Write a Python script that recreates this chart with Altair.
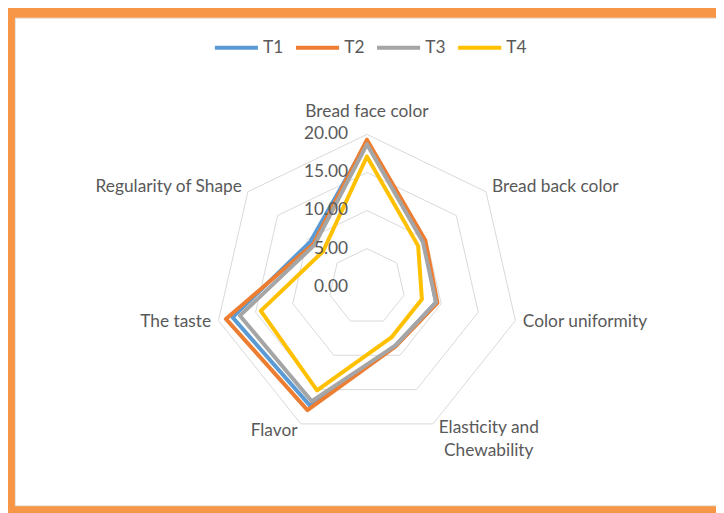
import altair as alt
import pandas as pd

categories = ["Bread face color", "Bread back color", "Color uniformity",
              "Elasticity and Chewability", "Flavor", "The taste", "Regularity of Shape"]
label_texts = ["Bread face color", "Bread back color", "Color uniformity",
               "Elasticity and\nChewability", "Flavor", "The taste", "Regularity of Shape"]
series_names = ["T1", "T2", "T3", "T4"]
T1 = [19.0, 9.6, 9.3, 8.6, 17.3, 18.1, 9.5]
T2 = [19.3, 9.8, 9.5, 8.7, 18.0, 19.0, 9.0]
T3 = [18.7, 9.4, 9.3, 8.6, 16.7, 17.1, 8.8]
T4 = [17.1, 8.6, 7.4, 7.4, 15.1, 14.3, 7.4]
ring_levels = [5, 10, 15, 20]
tick_values = [0, 5, 10, 15, 20]
colors = ["#5B9BD5", "#ED7D31", "#A5A5A5", "#FFC000"]

FONT = "Lato"
FS = 17.5
TXT = "#595959"
N = len(categories)

rows = []
for name, vals in zip(series_names, [T1, T2, T3, T4]):
    for i in range(N + 1):
        rows.append({"series": name, "idx": i, "category": categories[i % N], "value": vals[i % N]})
df = pd.DataFrame(rows)

rings = pd.DataFrame([{"level": L, "idx": i, "value": L} for L in ring_levels for i in range(N + 1)])
ticks = pd.DataFrame({"value": tick_values, "idx": [0] * len(tick_values)})
labels = pd.DataFrame({"label": label_texts, "idx": list(range(N)), "value": [21] * N})

xs = alt.Scale(domain=[-46.23, 45.84], nice=False, zero=False)
ys = alt.Scale(domain=[-28.70, 35.32], nice=False, zero=False)
X = alt.X("x:Q", scale=xs, axis=None)
Y = alt.Y("y:Q", scale=ys, axis=None)


def polar(ch):
    return ch.transform_calculate(ang=f"datum.idx*2*PI/{N}").transform_calculate(
        x="datum.value*sin(datum.ang)", y="datum.value*cos(datum.ang)")


ring_layer = polar(alt.Chart(rings).mark_line(color="#D9D9D9", strokeWidth=1)).encode(
    x=X, y=Y, detail="level:N", order="idx:Q")

line_layer = polar(alt.Chart(df).mark_line(strokeWidth=4, strokeJoin="round", strokeCap="round")).encode(
    x=X, y=Y, order="idx:Q",
    color=alt.Color("series:N", scale=alt.Scale(domain=series_names, range=colors),
                    legend=alt.Legend(orient="none", legendX=200, legendY=6, direction="horizontal",
                                      title=None, symbolType="stroke", symbolSize=1900,
                                      symbolStrokeWidth=4, labelFontSize=FS, labelFont=FONT,
                                      labelColor=TXT, columnPadding=4, labelOffset=3)))

tick_layer = polar(alt.Chart(ticks).mark_text(align="right", baseline="middle", dx=-19,
                                               fontSize=FS, font=FONT, color=TXT)).encode(
    x=X, y=Y, text=alt.Text("value:Q", format=".2f"))


def lab(filt, **kw):
    return polar(alt.Chart(labels).transform_filter(filt).mark_text(
        baseline="middle", fontSize=FS, font=FONT, color=TXT, lineBreak="\n", **kw)).encode(
        x=X, y=Y, text="label:N")


lab_top = lab("datum.idx == 0", align="center", dy=-15)
lab_right = lab("datum.idx == 1 || datum.idx == 2", align="left")
lab_el = lab("datum.idx == 3", align="center", dx=53, dy=-3, lineHeight=24)
lab_left = lab("datum.idx >= 4", align="right")

chart = alt.layer(ring_layer, line_layer, tick_layer, lab_top, lab_right, lab_el, lab_left).properties(
    width=709, height=493, autosize="none",
    padding={"left": 7, "top": 7, "right": 0, "bottom": 5},
    background="#F79646",
).configure_view(fill="white", stroke="#E6E6E6", strokeWidth=1)

chart.save("out.html", embed_options={"renderer": "svg", "actions": False})
